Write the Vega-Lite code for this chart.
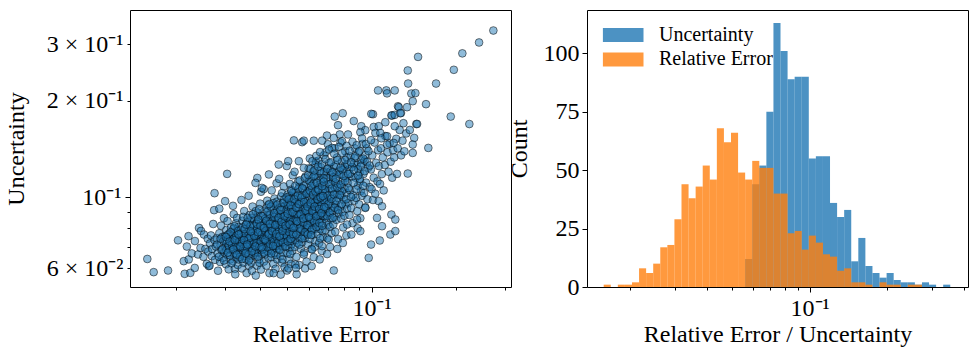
{
  "$schema": "https://vega.github.io/schema/vega-lite/v6.json",
  "background": "white",
  "padding": {"left": 3, "top": 9, "right": 5, "bottom": 5},
  "spacing": 76,
  "bounds": "flush",
  "resolve": {"scale": {"color": "independent"}, "legend": {"color": "independent"}},
  "config": {
    "font": "Liberation Serif",
    "view": {"stroke": "black", "strokeWidth": 1},
    "axis": {
      "domain": false, "grid": false,
      "labelFont": "Liberation Serif", "labelFontSize": 24, "labelColor": "black",
      "titleFont": "Liberation Serif", "titleFontSize": 24, "titleFontWeight": "normal", "titleColor": "black",
      "tickColor": "black", "tickWidth": 1,
      "labelOverlap": false, "labelFlush": false, "labelBound": false
    }
  },
  "datasets": {
    "scatter": [
      {"x":0.01582,"y":0.0642},{"x":0.01667,"y":0.0584},{"x":0.01876,"y":0.0591},{"x":0.02036,"y":0.0734},{"x":0.02135,"y":0.0632},{"x":0.02151,"y":0.0577},{"x":0.02224,"y":0.064},{"x":0.02253,"y":0.0581},{"x":0.02337,"y":0.0602},{"x":0.02622,"y":0.061},
      {"x":0.0219,"y":0.0702},{"x":0.0222,"y":0.0756},{"x":0.0228,"y":0.0668},{"x":0.0234,"y":0.073},{"x":0.024,"y":0.0663},{"x":0.0242,"y":0.0802},{"x":0.0245,"y":0.0695},{"x":0.0246,"y":0.0785},{"x":0.0251,"y":0.0652},{"x":0.0252,"y":0.0765},{"x":0.0255,"y":0.069},{"x":0.0258,"y":0.062},{"x":0.026,"y":0.0742},{"x":0.0261,"y":0.0677},
      {"x":0.0264,"y":0.0612},{"x":0.0265,"y":0.0718},{"x":0.0267,"y":0.076},{"x":0.0269,"y":0.0655},{"x":0.027,"y":0.069},{"x":0.0272,"y":0.0825},{"x":0.0275,"y":0.0735},{"x":0.0276,"y":0.0638},{"x":0.0278,"y":0.0702},{"x":0.0274,"y":0.0911},{"x":0.0275,"y":0.1029},
      {"x":0.028,"y":0.0745},{"x":0.0282,"y":0.0668},{"x":0.0283,"y":0.059},{"x":0.0286,"y":0.0921},{"x":0.0286,"y":0.0772},{"x":0.0288,"y":0.0628},{"x":0.0289,"y":0.0708},{"x":0.029,"y":0.0815},{"x":0.0291,"y":0.0685},{"x":0.0293,"y":0.0752},{"x":0.0294,"y":0.0648},{"x":0.0296,"y":0.073},{"x":0.0297,"y":0.086},
      {"x":0.03,"y":0.0972},{"x":0.0305,"y":0.1182},{"x":0.0298,"y":0.0672},{"x":0.0299,"y":0.0755},{"x":0.0301,"y":0.07},{"x":0.0302,"y":0.0618},{"x":0.0303,"y":0.079},{"x":0.0304,"y":0.0735},{"x":0.0305,"y":0.066},{"x":0.0306,"y":0.0842},{"x":0.0308,"y":0.0712},{"x":0.0309,"y":0.0596},{"x":0.031,"y":0.077},{"x":0.0311,"y":0.0688},{"x":0.0312,"y":0.0748},{"x":0.0313,"y":0.064},{"x":0.0315,"y":0.0805},{"x":0.0316,"y":0.0725},
      {"x":0.0318,"y":0.0695},{"x":0.0319,"y":0.076},{"x":0.032,"y":0.0632},{"x":0.0321,"y":0.0718},{"x":0.0322,"y":0.0885},{"x":0.0323,"y":0.0668},{"x":0.0324,"y":0.0745},{"x":0.0325,"y":0.0598},{"x":0.0326,"y":0.0782},{"x":0.0327,"y":0.0705},{"x":0.0328,"y":0.083},{"x":0.0329,"y":0.065},{"x":0.033,"y":0.0738},{"x":0.0331,"y":0.0692},{"x":0.0332,"y":0.077},{"x":0.0333,"y":0.0615},{"x":0.0334,"y":0.0722},{"x":0.0335,"y":0.0808},{"x":0.0336,"y":0.0675},{"x":0.0337,"y":0.0752},{"x":0.032,"y":0.094},{"x":0.0326,"y":0.0575},{"x":0.0331,"y":0.0862},{"x":0.0335,"y":0.064},{"x":0.0328,"y":0.071},{"x":0.0322,"y":0.0798},
      {"x":0.0339,"y":0.0728},{"x":0.034,"y":0.0662},{"x":0.0341,"y":0.079},{"x":0.0342,"y":0.0702},{"x":0.0344,"y":0.06},{"x":0.0345,"y":0.0755},{"x":0.0346,"y":0.0845},{"x":0.0347,"y":0.068},{"x":0.0348,"y":0.0738},{"x":0.0349,"y":0.0625},{"x":0.035,"y":0.0712},{"x":0.0351,"y":0.0905},{"x":0.0352,"y":0.077},{"x":0.0353,"y":0.0655},{"x":0.0354,"y":0.0725},{"x":0.0355,"y":0.0818},{"x":0.0356,"y":0.069},{"x":0.0357,"y":0.076},{"x":0.0358,"y":0.058},{"x":0.0359,"y":0.0742},{"x":0.0343,"y":0.098},{"x":0.0348,"y":0.0868},{"x":0.0356,"y":0.064},
      {"x":0.0361,"y":0.0748},{"x":0.0362,"y":0.0675},{"x":0.0363,"y":0.0802},{"x":0.0364,"y":0.0715},{"x":0.0365,"y":0.0612},{"x":0.0366,"y":0.077},{"x":0.0367,"y":0.088},{"x":0.0368,"y":0.0695},{"x":0.0369,"y":0.0732},{"x":0.037,"y":0.0645},{"x":0.0371,"y":0.082},{"x":0.0372,"y":0.0708},{"x":0.0373,"y":0.076},{"x":0.0374,"y":0.059},{"x":0.0375,"y":0.0735},{"x":0.0376,"y":0.0935},{"x":0.0377,"y":0.0685},{"x":0.0378,"y":0.0785},{"x":0.0379,"y":0.066},{"x":0.038,"y":0.0722},{"x":0.0381,"y":0.085},{"x":0.0382,"y":0.0702},{"x":0.0364,"y":0.101},{"x":0.0372,"y":0.0625},{"x":0.0378,"y":0.0765},{"x":0.0368,"y":0.084},
      {"x":0.0391,"y":0.1148},{"x":0.0384,"y":0.0705},{"x":0.0385,"y":0.0788},{"x":0.0386,"y":0.066},{"x":0.0387,"y":0.0742},{"x":0.0388,"y":0.083},{"x":0.0389,"y":0.069},{"x":0.039,"y":0.0612},{"x":0.0391,"y":0.0765},{"x":0.0392,"y":0.072},{"x":0.0393,"y":0.0895},{"x":0.0394,"y":0.0672},{"x":0.0395,"y":0.0805},{"x":0.0396,"y":0.0735},{"x":0.0397,"y":0.064},{"x":0.0398,"y":0.0778},{"x":0.0399,"y":0.0712},{"x":0.04,"y":0.0955},{"x":0.0401,"y":0.0685},{"x":0.0402,"y":0.0752},{"x":0.0403,"y":0.0595},{"x":0.0404,"y":0.0842},{"x":0.0405,"y":0.0728},{"x":0.0406,"y":0.0665},{"x":0.0407,"y":0.0795},{"x":0.0386,"y":0.057},{"x":0.0392,"y":0.0868},{"x":0.0398,"y":0.0625},{"x":0.0403,"y":0.104},{"x":0.0406,"y":0.07},{"x":0.0389,"y":0.0758},
      {"x":0.0409,"y":0.0748},{"x":0.041,"y":0.0822},{"x":0.0411,"y":0.0688},{"x":0.0412,"y":0.077},{"x":0.0413,"y":0.063},{"x":0.0414,"y":0.0905},{"x":0.0415,"y":0.0715},{"x":0.0416,"y":0.0798},{"x":0.0417,"y":0.0665},{"x":0.0418,"y":0.0745},{"x":0.0419,"y":0.086},{"x":0.042,"y":0.07},{"x":0.0421,"y":0.0612},{"x":0.0422,"y":0.0782},{"x":0.0423,"y":0.073},{"x":0.0424,"y":0.0975},{"x":0.0425,"y":0.0678},{"x":0.0426,"y":0.0815},{"x":0.0427,"y":0.0755},{"x":0.0428,"y":0.0648},{"x":0.0429,"y":0.088},{"x":0.043,"y":0.0722},{"x":0.0431,"y":0.0792},{"x":0.0432,"y":0.058},{"x":0.0433,"y":0.069},{"x":0.0434,"y":0.0838},{"x":0.0412,"y":0.106},{"x":0.0428,"y":0.0945},
      {"x":0.0436,"y":0.0765},{"x":0.0437,"y":0.07},{"x":0.0438,"y":0.0842},{"x":0.0439,"y":0.065},{"x":0.044,"y":0.079},{"x":0.0441,"y":0.0728},{"x":0.0442,"y":0.0915},{"x":0.0443,"y":0.0682},{"x":0.0444,"y":0.0808},{"x":0.0445,"y":0.0745},{"x":0.0446,"y":0.062},{"x":0.0447,"y":0.087},{"x":0.0448,"y":0.0712},{"x":0.0449,"y":0.0775},{"x":0.045,"y":0.099},{"x":0.0451,"y":0.0668},{"x":0.0452,"y":0.083},{"x":0.0453,"y":0.074},{"x":0.0454,"y":0.0598},{"x":0.0455,"y":0.0802},{"x":0.0456,"y":0.0725},{"x":0.0457,"y":0.0895},{"x":0.0458,"y":0.069},{"x":0.0459,"y":0.0758},{"x":0.046,"y":0.064},{"x":0.0461,"y":0.0852},{"x":0.0462,"y":0.0718},{"x":0.0463,"y":0.0785},{"x":0.044,"y":0.105},{"x":0.0447,"y":0.058},{"x":0.0453,"y":0.094},{"x":0.0458,"y":0.1105},{"x":0.0443,"y":0.0735},{"x":0.045,"y":0.0815},{"x":0.0456,"y":0.066},{"x":0.0461,"y":0.0705},{"x":0.0438,"y":0.075},{"x":0.0446,"y":0.0882},{"x":0.0452,"y":0.0762},{"x":0.0459,"y":0.0968},
      {"x":0.0474,"y":0.0574},{"x":0.0465,"y":0.0812},{"x":0.0466,"y":0.0735},{"x":0.0467,"y":0.0868},{"x":0.0468,"y":0.069},{"x":0.0469,"y":0.078},{"x":0.047,"y":0.0925},{"x":0.0471,"y":0.0712},{"x":0.0472,"y":0.0835},{"x":0.0473,"y":0.0655},{"x":0.0474,"y":0.076},{"x":0.0475,"y":0.1005},{"x":0.0476,"y":0.0728},{"x":0.0477,"y":0.0882},{"x":0.0478,"y":0.0625},{"x":0.0479,"y":0.0795},{"x":0.048,"y":0.0745},{"x":0.0481,"y":0.0958},{"x":0.0482,"y":0.07},{"x":0.0483,"y":0.0822},{"x":0.0484,"y":0.0672},{"x":0.0485,"y":0.0772},{"x":0.0486,"y":0.108},{"x":0.0487,"y":0.0738},{"x":0.0488,"y":0.0855},{"x":0.0489,"y":0.0605},{"x":0.049,"y":0.0805},{"x":0.0491,"y":0.0718},{"x":0.0492,"y":0.09},{"x":0.0493,"y":0.0752},{"x":0.0468,"y":0.114},{"x":0.0475,"y":0.085},{"x":0.0482,"y":0.064},{"x":0.0486,"y":0.079},{"x":0.049,"y":0.094},{"x":0.0472,"y":0.0765},{"x":0.0479,"y":0.103},
      {"x":0.0499,"y":0.0591},{"x":0.0495,"y":0.077},{"x":0.0496,"y":0.0848},{"x":0.0497,"y":0.0705},{"x":0.0498,"y":0.092},{"x":0.0499,"y":0.0745},{"x":0.05,"y":0.081},{"x":0.0501,"y":0.0668},{"x":0.0502,"y":0.102},{"x":0.0503,"y":0.0785},{"x":0.0504,"y":0.0875},{"x":0.0505,"y":0.0728},{"x":0.0506,"y":0.064},{"x":0.0507,"y":0.0965},{"x":0.0508,"y":0.0762},{"x":0.0509,"y":0.0838},{"x":0.051,"y":0.0695},{"x":0.0511,"y":0.11},{"x":0.0512,"y":0.0798},{"x":0.0513,"y":0.074},{"x":0.0514,"y":0.0902},{"x":0.0515,"y":0.062},{"x":0.0516,"y":0.0822},{"x":0.0517,"y":0.0712},{"x":0.0518,"y":0.099},{"x":0.0519,"y":0.0775},{"x":0.052,"y":0.0862},{"x":0.0521,"y":0.068},{"x":0.0522,"y":0.0752},{"x":0.0523,"y":0.117},{"x":0.0524,"y":0.0815},{"x":0.0525,"y":0.094},{"x":0.0498,"y":0.125},{"x":0.0505,"y":0.06},{"x":0.051,"y":0.0885},{"x":0.0516,"y":0.1055},{"x":0.052,"y":0.073},{"x":0.05,"y":0.0955},{"x":0.0507,"y":0.0808},{"x":0.0513,"y":0.0665},
      {"x":0.0528,"y":0.1503},{"x":0.0527,"y":0.085},{"x":0.0529,"y":0.0762},{"x":0.053,"y":0.0935},{"x":0.0532,"y":0.07},{"x":0.0533,"y":0.0815},{"x":0.0535,"y":0.104},{"x":0.0536,"y":0.0735},{"x":0.0538,"y":0.089},{"x":0.0539,"y":0.0652},{"x":0.0541,"y":0.079},{"x":0.0542,"y":0.098},{"x":0.0544,"y":0.072},{"x":0.0545,"y":0.086},{"x":0.0547,"y":0.112},{"x":0.0548,"y":0.0768},{"x":0.055,"y":0.0912},{"x":0.0551,"y":0.0615},{"x":0.0553,"y":0.0832},{"x":0.0554,"y":0.0745},{"x":0.0556,"y":0.101},{"x":0.0557,"y":0.088},{"x":0.0559,"y":0.069},{"x":0.056,"y":0.0802},{"x":0.0531,"y":0.12},{"x":0.054,"y":0.0575},{"x":0.0546,"y":0.0955},{"x":0.0552,"y":0.1075},{"x":0.0558,"y":0.078},{"x":0.0534,"y":0.087},
      {"x":0.0565,"y":0.1484},{"x":0.0573,"y":0.15},{"x":0.0562,"y":0.0885},{"x":0.0563,"y":0.079},{"x":0.0565,"y":0.0962},{"x":0.0566,"y":0.0725},{"x":0.0568,"y":0.0842},{"x":0.0569,"y":0.1065},{"x":0.0571,"y":0.0758},{"x":0.0572,"y":0.0925},{"x":0.0574,"y":0.0672},{"x":0.0575,"y":0.0818},{"x":0.0577,"y":0.1015},{"x":0.0578,"y":0.0745},{"x":0.058,"y":0.087},{"x":0.0581,"y":0.116},{"x":0.0583,"y":0.0795},{"x":0.0584,"y":0.095},{"x":0.0586,"y":0.063},{"x":0.0587,"y":0.0858},{"x":0.0589,"y":0.0772},{"x":0.059,"y":0.104},{"x":0.0592,"y":0.0905},{"x":0.0593,"y":0.0712},{"x":0.0595,"y":0.083},{"x":0.0596,"y":0.123},{"x":0.057,"y":0.099},{"x":0.0579,"y":0.06},{"x":0.0585,"y":0.11},{"x":0.0591,"y":0.0808},
      {"x":0.0598,"y":0.0915},{"x":0.06,"y":0.0805},{"x":0.0601,"y":0.1},{"x":0.0603,"y":0.074},{"x":0.0604,"y":0.087},{"x":0.0606,"y":0.112},{"x":0.0607,"y":0.0782},{"x":0.0609,"y":0.0945},{"x":0.061,"y":0.069},{"x":0.0612,"y":0.0852},{"x":0.0613,"y":0.106},{"x":0.0615,"y":0.0765},{"x":0.0616,"y":0.0915},{"x":0.0618,"y":0.12},{"x":0.0619,"y":0.0818},{"x":0.0621,"y":0.0978},{"x":0.0622,"y":0.065},{"x":0.0624,"y":0.0888},{"x":0.0625,"y":0.0795},{"x":0.0627,"y":0.1085},{"x":0.0628,"y":0.0935},{"x":0.063,"y":0.0728},{"x":0.0631,"y":0.086},{"x":0.0633,"y":0.129},{"x":0.0634,"y":0.083},{"x":0.0635,"y":0.1015},{"x":0.0602,"y":0.132},{"x":0.0611,"y":0.061},{"x":0.0617,"y":0.115},{"x":0.0626,"y":0.07},{"x":0.0632,"y":0.096},{"x":0.0605,"y":0.084},
      {"x":0.0637,"y":0.096},{"x":0.0639,"y":0.0842},{"x":0.064,"y":0.1045},{"x":0.0642,"y":0.0768},{"x":0.0644,"y":0.0905},{"x":0.0645,"y":0.115},{"x":0.0647,"y":0.0812},{"x":0.0649,"y":0.0985},{"x":0.065,"y":0.072},{"x":0.0652,"y":0.0878},{"x":0.0654,"y":0.1095},{"x":0.0655,"y":0.0795},{"x":0.0657,"y":0.095},{"x":0.0659,"y":0.124},{"x":0.066,"y":0.0855},{"x":0.0662,"y":0.102},{"x":0.0664,"y":0.068},{"x":0.0665,"y":0.092},{"x":0.0667,"y":0.0832},{"x":0.0669,"y":0.113},{"x":0.067,"y":0.0975},{"x":0.0672,"y":0.075},{"x":0.0674,"y":0.0895},{"x":0.0675,"y":0.135},{"x":0.0677,"y":0.087},{"x":0.0646,"y":0.13},{"x":0.0653,"y":0.064},{"x":0.0661,"y":0.1185},{"x":0.0668,"y":0.0785},{"x":0.0676,"y":0.106},
      {"x":0.0698,"y":0.1462},{"x":0.0679,"y":0.1},{"x":0.0681,"y":0.0872},{"x":0.0683,"y":0.1085},{"x":0.0685,"y":0.079},{"x":0.0687,"y":0.094},{"x":0.0689,"y":0.12},{"x":0.0691,"y":0.0838},{"x":0.0693,"y":0.1025},{"x":0.0695,"y":0.0745},{"x":0.0697,"y":0.0905},{"x":0.0699,"y":0.1135},{"x":0.0701,"y":0.082},{"x":0.0703,"y":0.0995},{"x":0.0705,"y":0.128},{"x":0.0707,"y":0.0882},{"x":0.0709,"y":0.106},{"x":0.0711,"y":0.07},{"x":0.0713,"y":0.0955},{"x":0.0715,"y":0.0858},{"x":0.0717,"y":0.117},{"x":0.0719,"y":0.101},{"x":0.072,"y":0.0772},{"x":0.0722,"y":0.0925},{"x":0.0686,"y":0.138},{"x":0.0694,"y":0.0665},{"x":0.0702,"y":0.123},{"x":0.071,"y":0.0808},{"x":0.0716,"y":0.11},{"x":0.069,"y":0.097},
      {"x":0.0733,"y":0.0591},{"x":0.0739,"y":0.1783},{"x":0.0724,"y":0.104},{"x":0.0726,"y":0.0905},{"x":0.0728,"y":0.113},{"x":0.073,"y":0.0822},{"x":0.0732,"y":0.0975},{"x":0.0735,"y":0.1245},{"x":0.0737,"y":0.0868},{"x":0.074,"y":0.107},{"x":0.0742,"y":0.078},{"x":0.0744,"y":0.0948},{"x":0.0746,"y":0.119},{"x":0.0749,"y":0.085},{"x":0.0751,"y":0.1025},{"x":0.0753,"y":0.133},{"x":0.0756,"y":0.0918},{"x":0.0758,"y":0.11},{"x":0.076,"y":0.074},{"x":0.0763,"y":0.0992},{"x":0.0765,"y":0.089},{"x":0.0767,"y":0.121},{"x":0.0769,"y":0.105},{"x":0.0738,"y":0.142},{"x":0.0755,"y":0.069},
      {"x":0.0789,"y":0.1826},{"x":0.0771,"y":0.108},{"x":0.0774,"y":0.0935},{"x":0.0776,"y":0.1175},{"x":0.0779,"y":0.0858},{"x":0.0781,"y":0.101},{"x":0.0784,"y":0.129},{"x":0.0787,"y":0.09},{"x":0.0789,"y":0.112},{"x":0.0792,"y":0.0805},{"x":0.0795,"y":0.0982},{"x":0.0797,"y":0.1225},{"x":0.08,"y":0.0875},{"x":0.0803,"y":0.106},{"x":0.0805,"y":0.139},{"x":0.0808,"y":0.095},{"x":0.0811,"y":0.115},{"x":0.0813,"y":0.076},{"x":0.0816,"y":0.103},{"x":0.0818,"y":0.092},{"x":0.0775,"y":0.148},{"x":0.079,"y":0.072},{"x":0.0802,"y":0.125},{"x":0.0815,"y":0.133},{"x":0.0783,"y":0.1045},
      {"x":0.0864,"y":0.1727},{"x":0.0823,"y":0.111},{"x":0.0827,"y":0.096},{"x":0.083,"y":0.122},{"x":0.0834,"y":0.088},{"x":0.0838,"y":0.105},{"x":0.0842,"y":0.134},{"x":0.0846,"y":0.0925},{"x":0.085,"y":0.116},{"x":0.0855,"y":0.083},{"x":0.0859,"y":0.1015},{"x":0.0864,"y":0.127},{"x":0.0868,"y":0.0975},{"x":0.0872,"y":0.142},
      {"x":0.0877,"y":0.115},{"x":0.0881,"y":0.0995},{"x":0.0885,"y":0.126},{"x":0.0889,"y":0.0905},{"x":0.0894,"y":0.1085},{"x":0.0898,"y":0.138},{"x":0.0903,"y":0.095},{"x":0.0907,"y":0.1195},{"x":0.0912,"y":0.086},{"x":0.0916,"y":0.1045},{"x":0.092,"y":0.131},{"x":0.0924,"y":0.101},{"x":0.0928,"y":0.1465},{"x":0.0892,"y":0.08},{"x":0.091,"y":0.112},
      {"x":0.0935,"y":0.118},{"x":0.094,"y":0.103},{"x":0.0945,"y":0.13},{"x":0.095,"y":0.093},{"x":0.0956,"y":0.111},{"x":0.0962,"y":0.142},{"x":0.0967,"y":0.0985},{"x":0.0973,"y":0.1235},{"x":0.0985,"y":0.1075},
      {"x":0.0995,"y":0.122},{"x":0.1,"y":0.106},{"x":0.1006,"y":0.135},{"x":0.1012,"y":0.098},{"x":0.1018,"y":0.115},{"x":0.1025,"y":0.148},{"x":0.1031,"y":0.1025},{"x":0.1038,"y":0.128},{"x":0.105,"y":0.112},{"x":0.1055,"y":0.14},
      {"x":0.1063,"y":0.125},{"x":0.1072,"y":0.11},{"x":0.108,"y":0.142},{"x":0.1088,"y":0.118},{"x":0.1097,"y":0.133},{"x":0.1105,"y":0.105},{"x":0.1115,"y":0.126},{"x":0.112,"y":0.155},
      {"x":0.114,"y":0.138},{"x":0.115,"y":0.12},{"x":0.116,"y":0.147},{"x":0.117,"y":0.129},{"x":0.1185,"y":0.115},{"x":0.1195,"y":0.14},
      {"x":0.1205,"y":0.133},{"x":0.1225,"y":0.152},{"x":0.124,"y":0.142},{"x":0.126,"y":0.162},{"x":0.1275,"y":0.135},
      {"x":0.129,"y":0.15},{"x":0.131,"y":0.139},{"x":0.133,"y":0.158},{"x":0.13,"y":0.17},{"x":0.137,"y":0.162},{"x":0.142,"y":0.153},{"x":0.1445,"y":0.169},
      {"x":0.077,"y":0.1568},{"x":0.0824,"y":0.1568},{"x":0.0759,"y":0.1676},{"x":0.0919,"y":0.1664},{"x":0.095,"y":0.1617},{"x":0.0912,"y":0.1594},{"x":0.1018,"y":0.1655},{"x":0.1061,"y":0.1664},{"x":0.1032,"y":0.1585},{"x":0.1075,"y":0.1585},{"x":0.1084,"y":0.1526},{"x":0.112,"y":0.1712},{"x":0.1184,"y":0.1797},{"x":0.121,"y":0.1664},{"x":0.1136,"y":0.1549},{"x":0.12,"y":0.1476},{"x":0.1136,"y":0.1458},{"x":0.1177,"y":0.1797},{"x":0.121,"y":0.1805},{"x":0.1274,"y":0.183},{"x":0.1012,"y":0.1813},{"x":0.1243,"y":0.192},{"x":0.0693,"y":0.1556},
      {"x":0.0466,"y":0.1264},{"x":0.0504,"y":0.1295},{"x":0.055,"y":0.1295},{"x":0.0573,"y":0.1234},{"x":0.063,"y":0.1264},{"x":0.043,"y":0.1177},{"x":0.0385,"y":0.1108},{"x":0.0406,"y":0.1069},
      {"x":0.0622,"y":0.15},{"x":0.0666,"y":0.15},{"x":0.0733,"y":0.153},{"x":0.0785,"y":0.1494},{"x":0.0723,"y":0.1424},
      {"x":0.0847,"y":0.0765},{"x":0.0912,"y":0.0784},{"x":0.0818,"y":0.0822},{"x":0.0888,"y":0.0852},{"x":0.095,"y":0.0926},
      {"x":0.0534,"y":0.0617},{"x":0.0537,"y":0.0602},{"x":0.0573,"y":0.0663},{"x":0.0613,"y":0.0687},{"x":0.0666,"y":0.0704},{"x":0.0703,"y":0.0738},
      {"x":0.0977,"y":0.0647},{"x":0.0996,"y":0.0712},{"x":0.107,"y":0.0733},{"x":0.109,"y":0.0812},{"x":0.1167,"y":0.0765},{"x":0.1216,"y":0.0784},{"x":0.1061,"y":0.0972},{"x":0.109,"y":0.0937},{"x":0.1046,"y":0.0862},{"x":0.1177,"y":0.0883},{"x":0.1216,"y":0.0852},
      {"x":0.0998,"y":0.1818},{"x":0.1055,"y":0.2151},{"x":0.1129,"y":0.2151},{"x":0.121,"y":0.2151},{"x":0.1136,"y":0.2106},{"x":0.1347,"y":0.2482},{"x":0.1466,"y":0.2736},{"x":0.1351,"y":0.226},{"x":0.1387,"y":0.2104},{"x":0.1434,"y":0.211},{"x":0.1403,"y":0.1991},{"x":0.1251,"y":0.1907},{"x":0.1339,"y":0.1907},{"x":0.1267,"y":0.1826},{"x":0.1565,"y":0.1949},{"x":0.17,"y":0.226},{"x":0.1967,"y":0.2494},{"x":0.211,"y":0.2806},{"x":0.2421,"y":0.3034},{"x":0.2723,"y":0.3306},{"x":0.1918,"y":0.1783},{"x":0.2235,"y":0.169},{"x":0.1595,"y":0.1424},{"x":0.1454,"y":0.1691},{"x":0.1403,"y":0.1459},{"x":0.1403,"y":0.1374},{"x":0.1347,"y":0.1185},{"x":0.1233,"y":0.1182},
      {"x":0.0301,"y":0.0728},{"x":0.0303,"y":0.0683},{"x":0.0306,"y":0.0762},{"x":0.0309,"y":0.0705},{"x":0.0312,"y":0.0658},{"x":0.0314,"y":0.0778},{"x":0.0317,"y":0.0712},{"x":0.0319,"y":0.0685},{"x":0.0322,"y":0.0742},{"x":0.0324,"y":0.0812},{"x":0.0327,"y":0.0668},{"x":0.0329,"y":0.0758},{"x":0.0332,"y":0.0702},{"x":0.0334,"y":0.0785},{"x":0.0337,"y":0.0728},{"x":0.0339,"y":0.0652},{"x":0.0342,"y":0.0772},{"x":0.0345,"y":0.0718},{"x":0.0347,"y":0.0805},{"x":0.0349,"y":0.0692},
      {"x":0.0351,"y":0.0745},{"x":0.0353,"y":0.0682},{"x":0.0355,"y":0.0768},{"x":0.0358,"y":0.0712},{"x":0.036,"y":0.0835},{"x":0.0362,"y":0.0738},{"x":0.0364,"y":0.0662},{"x":0.0366,"y":0.0792},{"x":0.0368,"y":0.0718},{"x":0.037,"y":0.0755},{"x":0.0372,"y":0.0862},{"x":0.0374,"y":0.0695},{"x":0.0376,"y":0.0775},{"x":0.0378,"y":0.0725},{"x":0.038,"y":0.0812},{"x":0.0382,"y":0.0672},{"x":0.0384,"y":0.0748},{"x":0.0386,"y":0.0905},{"x":0.0388,"y":0.0718},{"x":0.039,"y":0.0795},{"x":0.0392,"y":0.0652},{"x":0.0394,"y":0.0765},{"x":0.0396,"y":0.0842},{"x":0.0398,"y":0.0702},{"x":0.04,"y":0.0782},
      {"x":0.0402,"y":0.0728},{"x":0.0404,"y":0.0875},{"x":0.0406,"y":0.0765},{"x":0.0408,"y":0.0688},{"x":0.041,"y":0.0812},{"x":0.0412,"y":0.0742},{"x":0.0414,"y":0.0672},{"x":0.0416,"y":0.0855},{"x":0.0418,"y":0.0785},{"x":0.042,"y":0.0728},{"x":0.0422,"y":0.0925},{"x":0.0424,"y":0.0758},{"x":0.0426,"y":0.0698},{"x":0.0428,"y":0.0828},{"x":0.043,"y":0.0772},{"x":0.0432,"y":0.0878},{"x":0.0434,"y":0.0715},{"x":0.0436,"y":0.0805},{"x":0.0438,"y":0.0668},{"x":0.044,"y":0.0748},{"x":0.0442,"y":0.0842},{"x":0.0444,"y":0.0778},{"x":0.0446,"y":0.0958},{"x":0.0448,"y":0.0725},{"x":0.045,"y":0.0868},{"x":0.0452,"y":0.0792},{"x":0.0454,"y":0.0705},{"x":0.0456,"y":0.0822},{"x":0.0458,"y":0.0752},{"x":0.046,"y":0.0912},
      {"x":0.0462,"y":0.0785},{"x":0.0464,"y":0.0722},{"x":0.0466,"y":0.0848},{"x":0.0468,"y":0.0792},{"x":0.047,"y":0.0685},{"x":0.0472,"y":0.0885},{"x":0.0474,"y":0.0815},{"x":0.0476,"y":0.0748},{"x":0.0478,"y":0.0932},{"x":0.048,"y":0.0808},{"x":0.0482,"y":0.0725},{"x":0.0484,"y":0.0872},{"x":0.0486,"y":0.0762},{"x":0.0488,"y":0.0985},{"x":0.049,"y":0.0835},{"x":0.0492,"y":0.0702},{"x":0.0494,"y":0.0798},{"x":0.0496,"y":0.0905},{"x":0.0498,"y":0.0758},{"x":0.05,"y":0.0862},{"x":0.0502,"y":0.0728},{"x":0.0504,"y":0.0942},{"x":0.0506,"y":0.0825},{"x":0.0508,"y":0.0778},{"x":0.051,"y":0.1008},{"x":0.0512,"y":0.0858},{"x":0.0514,"y":0.0742},{"x":0.0516,"y":0.0918},{"x":0.0518,"y":0.0805},{"x":0.052,"y":0.0968},{"x":0.0522,"y":0.0838},{"x":0.0524,"y":0.0768},{"x":0.0526,"y":0.1035},{"x":0.0528,"y":0.0892},{"x":0.053,"y":0.0812},
      {"x":0.0533,"y":0.0962},{"x":0.0536,"y":0.0848},{"x":0.0539,"y":0.0765},{"x":0.0542,"y":0.0925},{"x":0.0545,"y":0.0825},{"x":0.0548,"y":0.1062},{"x":0.0551,"y":0.0875},{"x":0.0554,"y":0.0798},{"x":0.0557,"y":0.0968},{"x":0.056,"y":0.0852},{"x":0.0563,"y":0.0742},{"x":0.0566,"y":0.0915},{"x":0.0569,"y":0.0835},{"x":0.0572,"y":0.1085},{"x":0.0575,"y":0.0885},{"x":0.0578,"y":0.0778},{"x":0.0581,"y":0.0975},{"x":0.0584,"y":0.0862},{"x":0.0587,"y":0.1032},{"x":0.059,"y":0.0818},{"x":0.0593,"y":0.0942},{"x":0.0596,"y":0.0878},{"x":0.0599,"y":0.1125},{"x":0.0538,"y":0.1005},{"x":0.0552,"y":0.0712},{"x":0.0565,"y":0.1015},{"x":0.0579,"y":0.0925},{"x":0.0592,"y":0.0765},{"x":0.0544,"y":0.0882},{"x":0.0588,"y":0.0905},
      {"x":0.0603,"y":0.0952},{"x":0.0606,"y":0.0858},{"x":0.0609,"y":0.1035},{"x":0.0612,"y":0.0792},{"x":0.0615,"y":0.0985},{"x":0.0618,"y":0.0892},{"x":0.0621,"y":0.1102},{"x":0.0624,"y":0.0842},{"x":0.0627,"y":0.0962},{"x":0.063,"y":0.1175},{"x":0.0633,"y":0.0905},{"x":0.0636,"y":0.0808},{"x":0.0639,"y":0.1008},{"x":0.0642,"y":0.0878},{"x":0.0645,"y":0.1065},{"x":0.0648,"y":0.0935},{"x":0.0651,"y":0.0832},{"x":0.0654,"y":0.1015},{"x":0.0657,"y":0.0882},{"x":0.066,"y":0.1128},{"x":0.0663,"y":0.0948},{"x":0.0666,"y":0.0815},{"x":0.0669,"y":0.1045},{"x":0.0672,"y":0.0918},{"x":0.0675,"y":0.1195},{"x":0.0678,"y":0.0978},{"x":0.0608,"y":0.0762},{"x":0.0655,"y":0.0745},
      {"x":0.0682,"y":0.1055},{"x":0.0686,"y":0.0925},{"x":0.069,"y":0.1148},{"x":0.0694,"y":0.0872},{"x":0.0698,"y":0.1012},{"x":0.0702,"y":0.0952},{"x":0.0706,"y":0.1098},{"x":0.071,"y":0.0895},{"x":0.0714,"y":0.1205},{"x":0.0718,"y":0.0988},{"x":0.0722,"y":0.1065},{"x":0.0726,"y":0.0862},{"x":0.073,"y":0.1155},{"x":0.0734,"y":0.1018},{"x":0.0738,"y":0.0928},{"x":0.0742,"y":0.1112},{"x":0.0746,"y":0.1258},{"x":0.075,"y":0.0975},{"x":0.0755,"y":0.1072},{"x":0.076,"y":0.0912},{"x":0.0765,"y":0.1178},{"x":0.077,"y":0.1015},{"x":0.0776,"y":0.1095},{"x":0.0782,"y":0.0952},{"x":0.0788,"y":0.1215},
      {"x":0.0805,"y":0.1125},{"x":0.0812,"y":0.0985},{"x":0.082,"y":0.1265},{"x":0.0828,"y":0.1068},{"x":0.0836,"y":0.1182},{"x":0.0845,"y":0.1002},{"x":0.0853,"y":0.1242},{"x":0.0862,"y":0.1108},{"x":0.087,"y":0.1325},{"x":0.0882,"y":0.1058},{"x":0.0895,"y":0.1225},{"x":0.0908,"y":0.1142},{"x":0.092,"y":0.1275},{"x":0.0935,"y":0.1085},{"x":0.095,"y":0.1352},
      {"x":0.0352,"y":0.0795},{"x":0.0357,"y":0.0702},{"x":0.0361,"y":0.0862},{"x":0.0365,"y":0.0745},{"x":0.0369,"y":0.0812},{"x":0.0373,"y":0.0678},{"x":0.0377,"y":0.0885},{"x":0.0381,"y":0.0758},{"x":0.0385,"y":0.0702},{"x":0.0389,"y":0.0825},{"x":0.0393,"y":0.0778},{"x":0.0397,"y":0.0918},{"x":0.0401,"y":0.0815},{"x":0.0405,"y":0.0698},{"x":0.0409,"y":0.0872},{"x":0.0413,"y":0.0802},{"x":0.0417,"y":0.0738},{"x":0.0421,"y":0.0845},{"x":0.0425,"y":0.0902},{"x":0.0429,"y":0.0765},{"x":0.0433,"y":0.0825},{"x":0.0437,"y":0.0935},{"x":0.0441,"y":0.0785},{"x":0.0445,"y":0.0705},{"x":0.0449,"y":0.0892},{"x":0.0453,"y":0.0818},{"x":0.0457,"y":0.0768},{"x":0.0461,"y":0.0948},{"x":0.0465,"y":0.0862},{"x":0.0469,"y":0.0755},{"x":0.0473,"y":0.0912},{"x":0.0477,"y":0.0838},{"x":0.0481,"y":0.0785},{"x":0.0485,"y":0.0962},{"x":0.0489,"y":0.0872},{"x":0.0493,"y":0.0815},{"x":0.0497,"y":0.0998},{"x":0.0357,"y":0.0822},{"x":0.0394,"y":0.0852},{"x":0.0431,"y":0.0952},
      {"x":0.0502,"y":0.0888},{"x":0.0506,"y":0.0985},{"x":0.051,"y":0.0822},{"x":0.0514,"y":0.0945},{"x":0.0518,"y":0.1045},{"x":0.0522,"y":0.0898},{"x":0.0526,"y":0.0802},{"x":0.053,"y":0.0985},{"x":0.0534,"y":0.1085},{"x":0.0538,"y":0.0928},{"x":0.0542,"y":0.0842},{"x":0.0546,"y":0.1012},{"x":0.055,"y":0.0952},{"x":0.0554,"y":0.1128},{"x":0.0558,"y":0.0885},{"x":0.0562,"y":0.0998},{"x":0.0566,"y":0.1065},{"x":0.057,"y":0.0858},{"x":0.0574,"y":0.0965},{"x":0.0578,"y":0.1148},{"x":0.0582,"y":0.0908},{"x":0.0586,"y":0.1025},{"x":0.059,"y":0.0935},{"x":0.0594,"y":0.1172},{"x":0.0598,"y":0.0868},{"x":0.0602,"y":0.1048},{"x":0.0606,"y":0.0962},{"x":0.061,"y":0.1085},{"x":0.0614,"y":0.0905},{"x":0.0618,"y":0.1018},{"x":0.0622,"y":0.1162},{"x":0.0626,"y":0.0935},{"x":0.063,"y":0.1042},{"x":0.0634,"y":0.0872},{"x":0.0638,"y":0.1108},{"x":0.0642,"y":0.0985},{"x":0.0646,"y":0.1055},{"x":0.065,"y":0.0918},{"x":0.0654,"y":0.1205},{"x":0.0658,"y":0.0998},{"x":0.0662,"y":0.0892},{"x":0.0666,"y":0.1082},{"x":0.067,"y":0.1008},{"x":0.0674,"y":0.1145},{"x":0.0678,"y":0.0932},
      {"x":0.0605,"y":0.1225},{"x":0.0615,"y":0.1295},{"x":0.0625,"y":0.1212},{"x":0.0635,"y":0.1345},{"x":0.0645,"y":0.1245},{"x":0.0655,"y":0.1382},{"x":0.0665,"y":0.1268},{"x":0.0675,"y":0.1118},{"x":0.0685,"y":0.1312},{"x":0.0695,"y":0.1225},{"x":0.0705,"y":0.1408},{"x":0.0715,"y":0.1285},{"x":0.0725,"y":0.1195},{"x":0.0735,"y":0.1365},{"x":0.0745,"y":0.1142},{"x":0.0755,"y":0.1305},{"x":0.0765,"y":0.1435},{"x":0.0775,"y":0.1235},{"x":0.0785,"y":0.1372},{"x":0.0795,"y":0.1165},{"x":0.0805,"y":0.1305},{"x":0.0815,"y":0.1445},{"x":0.0825,"y":0.1182},{"x":0.0835,"y":0.1395},{"x":0.0845,"y":0.1285},{"x":0.0855,"y":0.1488},{"x":0.0865,"y":0.1215},{"x":0.0875,"y":0.1342},{"x":0.0885,"y":0.1452},{"x":0.0895,"y":0.1168},{"x":0.0905,"y":0.1392},{"x":0.0915,"y":0.1245},{"x":0.0925,"y":0.1525},{"x":0.0935,"y":0.1318},{"x":0.0945,"y":0.1205},{"x":0.0955,"y":0.1465},{"x":0.0965,"y":0.1288},{"x":0.0975,"y":0.1392},{"x":0.0985,"y":0.1255},{"x":0.0995,"y":0.1505},
      {"x":0.0281,"y":0.0712},{"x":0.0285,"y":0.0652},{"x":0.0289,"y":0.0742},{"x":0.0293,"y":0.0688},{"x":0.0297,"y":0.0635},{"x":0.0302,"y":0.0752},{"x":0.0307,"y":0.0672},{"x":0.0311,"y":0.0728},{"x":0.0316,"y":0.0622},{"x":0.0321,"y":0.0688},{"x":0.0325,"y":0.0735},{"x":0.033,"y":0.0662},{"x":0.0335,"y":0.0765},{"x":0.034,"y":0.0702},{"x":0.0345,"y":0.0642},{"x":0.035,"y":0.0735},{"x":0.0355,"y":0.0668},{"x":0.036,"y":0.0712},{"x":0.0365,"y":0.0635},{"x":0.037,"y":0.0782}
    ],
    "hist": [
      {"series":"Uncertainty","lo":0.056067,"hi":0.059738,"count":12},
      {"series":"Uncertainty","lo":0.059738,"hi":0.063649,"count":44},
      {"series":"Uncertainty","lo":0.063649,"hi":0.067816,"count":52},
      {"series":"Uncertainty","lo":0.067816,"hi":0.072256,"count":75},
      {"series":"Uncertainty","lo":0.072256,"hi":0.076986,"count":113},
      {"series":"Uncertainty","lo":0.076986,"hi":0.082026,"count":101},
      {"series":"Uncertainty","lo":0.082026,"hi":0.087396,"count":89},
      {"series":"Uncertainty","lo":0.087396,"hi":0.093118,"count":90},
      {"series":"Uncertainty","lo":0.093118,"hi":0.099214,"count":90},
      {"series":"Uncertainty","lo":0.099214,"hi":0.105709,"count":55},
      {"series":"Uncertainty","lo":0.105709,"hi":0.11263,"count":56},
      {"series":"Uncertainty","lo":0.11263,"hi":0.120004,"count":56},
      {"series":"Uncertainty","lo":0.120004,"hi":0.12786,"count":36},
      {"series":"Uncertainty","lo":0.12786,"hi":0.136231,"count":30},
      {"series":"Uncertainty","lo":0.136231,"hi":0.14515,"count":33},
      {"series":"Uncertainty","lo":0.14515,"hi":0.154652,"count":11},
      {"series":"Uncertainty","lo":0.154652,"hi":0.164777,"count":21},
      {"series":"Uncertainty","lo":0.164777,"hi":0.175564,"count":9},
      {"series":"Uncertainty","lo":0.175564,"hi":0.187058,"count":6},
      {"series":"Uncertainty","lo":0.187058,"hi":0.199304,"count":4},
      {"series":"Uncertainty","lo":0.199304,"hi":0.212352,"count":6},
      {"series":"Uncertainty","lo":0.212352,"hi":0.226254,"count":3},
      {"series":"Uncertainty","lo":0.226254,"hi":0.241066,"count":2},
      {"series":"Uncertainty","lo":0.241066,"hi":0.256848,"count":2},
      {"series":"Uncertainty","lo":0.256848,"hi":0.273663,"count":1},
      {"series":"Uncertainty","lo":0.273663,"hi":0.291579,"count":2},
      {"series":"Uncertainty","lo":0.291579,"hi":0.310668,"count":1},
      {"series":"Uncertainty","lo":0.331007,"hi":0.352677,"count":1},
      {"series":"Relative Error","lo":0.015772,"hi":0.016805,"count":1},
      {"series":"Relative Error","lo":0.017905,"hi":0.019077,"count":1},
      {"series":"Relative Error","lo":0.019077,"hi":0.020326,"count":1},
      {"series":"Relative Error","lo":0.020326,"hi":0.021657,"count":2},
      {"series":"Relative Error","lo":0.021657,"hi":0.023075,"count":8},
      {"series":"Relative Error","lo":0.023075,"hi":0.024586,"count":6},
      {"series":"Relative Error","lo":0.024586,"hi":0.026196,"count":10},
      {"series":"Relative Error","lo":0.026196,"hi":0.027911,"count":17},
      {"series":"Relative Error","lo":0.027911,"hi":0.029738,"count":18},
      {"series":"Relative Error","lo":0.029738,"hi":0.031685,"count":29},
      {"series":"Relative Error","lo":0.031685,"hi":0.033759,"count":44},
      {"series":"Relative Error","lo":0.033759,"hi":0.035969,"count":38},
      {"series":"Relative Error","lo":0.035969,"hi":0.038324,"count":43},
      {"series":"Relative Error","lo":0.038324,"hi":0.040833,"count":52},
      {"series":"Relative Error","lo":0.040833,"hi":0.043506,"count":46},
      {"series":"Relative Error","lo":0.043506,"hi":0.046354,"count":68},
      {"series":"Relative Error","lo":0.046354,"hi":0.049389,"count":62},
      {"series":"Relative Error","lo":0.049389,"hi":0.052622,"count":66},
      {"series":"Relative Error","lo":0.052622,"hi":0.056067,"count":49},
      {"series":"Relative Error","lo":0.056067,"hi":0.059738,"count":46},
      {"series":"Relative Error","lo":0.059738,"hi":0.063649,"count":54},
      {"series":"Relative Error","lo":0.063649,"hi":0.067816,"count":51},
      {"series":"Relative Error","lo":0.067816,"hi":0.072256,"count":51},
      {"series":"Relative Error","lo":0.072256,"hi":0.076986,"count":40},
      {"series":"Relative Error","lo":0.076986,"hi":0.082026,"count":40},
      {"series":"Relative Error","lo":0.082026,"hi":0.087396,"count":23},
      {"series":"Relative Error","lo":0.087396,"hi":0.093118,"count":24},
      {"series":"Relative Error","lo":0.093118,"hi":0.099214,"count":16},
      {"series":"Relative Error","lo":0.099214,"hi":0.105709,"count":22},
      {"series":"Relative Error","lo":0.105709,"hi":0.11263,"count":19},
      {"series":"Relative Error","lo":0.11263,"hi":0.120004,"count":14},
      {"series":"Relative Error","lo":0.120004,"hi":0.12786,"count":13},
      {"series":"Relative Error","lo":0.12786,"hi":0.136231,"count":7},
      {"series":"Relative Error","lo":0.136231,"hi":0.14515,"count":8},
      {"series":"Relative Error","lo":0.14515,"hi":0.154652,"count":2},
      {"series":"Relative Error","lo":0.154652,"hi":0.164777,"count":2},
      {"series":"Relative Error","lo":0.164777,"hi":0.175564,"count":1},
      {"series":"Relative Error","lo":0.187058,"hi":0.199304,"count":2},
      {"series":"Relative Error","lo":0.199304,"hi":0.212352,"count":1},
      {"series":"Relative Error","lo":0.212352,"hi":0.226254,"count":1},
      {"series":"Relative Error","lo":0.241066,"hi":0.256848,"count":1},
      {"series":"Relative Error","lo":0.256848,"hi":0.273663,"count":1}
    ]
  },
  "hconcat": [
    {
      "width": 381,
      "height": 277,
      "data": {"name": "scatter"},
      "mark": {"type": "point", "filled": true, "shape": "circle", "size": 60, "opacity": 1, "fill": "#1f77b4", "fillOpacity": 0.5, "stroke": "black", "strokeOpacity": 0.5, "strokeWidth": 1},
      "encoding": {
        "x": {
          "field": "x", "type": "quantitative", "title": "Relative Error",
          "scale": {"type": "log", "domain": [0.01372, 0.3148], "nice": false},
          "axis": {
            "values": [0.02, 0.03, 0.04, 0.05, 0.06, 0.07, 0.08, 0.09, 0.1, 0.2, 0.3],
            "labelExpr": "datum.value > 0.099 && datum.value < 0.101 ? '10⁻¹' : ''",
            "tickSize": {"condition": {"test": "datum.value > 0.099 && datum.value < 0.101", "value": 5}, "value": 3},
            "labelPadding": 4, "titlePadding": 2
          }
        },
        "y": {
          "field": "y", "type": "quantitative", "title": "Uncertainty",
          "scale": {"type": "log", "domain": [0.0525, 0.383], "nice": false},
          "axis": {
            "values": [0.06, 0.07, 0.08, 0.09, 0.1, 0.2, 0.3],
            "labelExpr": "datum.value > 0.059 && datum.value < 0.061 ? '6 × 10⁻²' : datum.value > 0.099 && datum.value < 0.101 ? '10⁻¹' : datum.value > 0.19 && datum.value < 0.21 ? '2 × 10⁻¹' : datum.value > 0.29 && datum.value < 0.31 ? '3 × 10⁻¹' : ''",
            "tickSize": {"condition": {"test": "datum.value > 0.099 && datum.value < 0.101", "value": 5}, "value": 3},
            "labelPadding": 4, "titlePadding": 18
          }
        }
      }
    },
    {
      "width": 381,
      "height": 277,
      "data": {"name": "hist"},
      "mark": {"type": "rect", "opacity": 0.8},
      "encoding": {
        "x": {
          "field": "lo", "type": "quantitative", "title": "Relative Error / Uncertainty",
          "scale": {"type": "log", "domain": [0.01358, 0.4135], "nice": false},
          "axis": {
            "values": [0.02, 0.03, 0.04, 0.05, 0.06, 0.07, 0.08, 0.09, 0.1, 0.2, 0.3, 0.4],
            "labelExpr": "datum.value > 0.099 && datum.value < 0.101 ? '10⁻¹' : ''",
            "tickSize": {"condition": {"test": "datum.value > 0.099 && datum.value < 0.101", "value": 5}, "value": 3},
            "labelPadding": 4, "titlePadding": 2
          }
        },
        "x2": {"field": "hi"},
        "y": {
          "field": "count", "type": "quantitative", "title": "Count",
          "scale": {"domain": [0, 118.6], "nice": false},
          "axis": {"values": [0, 25, 50, 75, 100], "tickSize": 5, "labelPadding": 3, "titlePadding": 12}
        },
        "y2": {"datum": 0},
        "color": {
          "field": "series", "type": "nominal",
          "scale": {"domain": ["Uncertainty", "Relative Error"], "range": ["#1f77b4", "#ff7f0e"]},
          "legend": {
            "orient": "top-left", "offset": 10.8, "title": null, "padding": 0,
            "symbolType": "M-0.65,-0.5H2.25V0.5H-0.65Z", "symbolSize": 784,
            "symbolStrokeWidth": 0, "symbolOpacity": 0.8,
            "labelFont": "Liberation Serif", "labelFontSize": 20, "labelColor": "black",
            "labelOffset": 33, "rowPadding": 0.4
          }
        }
      }
    }
  ]
}
